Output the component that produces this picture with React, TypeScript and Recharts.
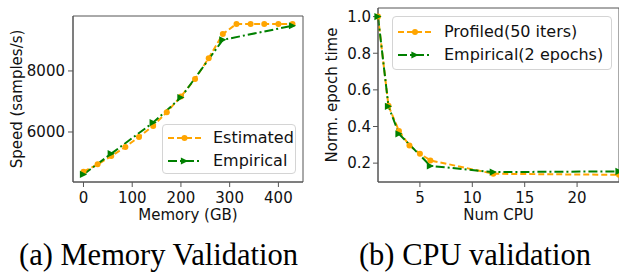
import { Legend, Line, LineChart, ReferenceArea, XAxis, YAxis } from "recharts";

const ORANGE = "#FFA500";
const GREEN = "#008000";
const SPINE = "#555";
const INK = "#111";

// (a) memory sweep
const memEstimatedGB = [0, 29, 57, 86, 114, 143, 171, 200, 229, 257, 286, 314, 343, 371, 400, 429];
const memEstimatedSpeed = [4700, 4940, 5210, 5510, 5840, 6200, 6650, 7160, 7740, 8420, 9210, 9540, 9540, 9540, 9540, 9540];
const memEmpiricalGB = [0, 57, 143, 200, 286, 429];
const memEmpiricalSpeed = [4610, 5290, 6310, 7130, 9020, 9480];
const memTicksX = [0, 100, 200, 300, 400];
const memTicksY = [6000, 8000];
const memDomainX = [-21.5, 450.5];
const memDomainY = [4362, 9800];

// (b) cpu sweep
const cpuProfiledCount = [1, 2, 3, 4, 5, 6, 12, 24];
const cpuProfiledTime = [1.0, 0.513, 0.376, 0.296, 0.251, 0.215, 0.142, 0.136];
const cpuEmpiricalCount = [1, 2, 3, 6, 12, 24];
const cpuEmpiricalTime = [1.0, 0.51, 0.36, 0.185, 0.151, 0.155];
const cpuTicksX = [5, 10, 15, 20];
const cpuTicksY = [0.2, 0.4, 0.6, 0.8, 1.0];
const cpuDomainX = [1, 24];
const cpuDomainY = [0.097, 1.047];

const zip = (xs: number[], ys: number[]) => xs.map((x, i) => ({ x, y: ys[i] }));

const circleDot = (props: any) => {
  const { cx, cy, index } = props;
  return <circle key={`c-${index}`} cx={cx} cy={cy} r={3} fill={ORANGE} />;
};

const triangleDot = (props: any) => {
  const { cx, cy, index } = props;
  const r = 3.6;
  return (
    <path
      key={`t-${index}`}
      d={`M${cx + r},${cy}L${cx - r},${cy - r}L${cx - r},${cy + r}Z`}
      fill={GREEN}
    />
  );
};

type LegendItem = { label: string; color: string; dash: string; marker: "circle" | "triangle" };

function LegendBox({ items, textLeft, padTop }: { items: LegendItem[]; textLeft: number; padTop: number }) {
  return (
    <div
      style={{
        boxSizing: "border-box",
        width: "100%",
        height: "100%",
        border: "1px solid #d4d4d4",
        borderRadius: 4,
        background: "rgba(255,255,255,0.85)",
        paddingTop: padTop,
        fontSize: 16,
        color: INK,
      }}
    >
      {items.map((item) => {
        const mx = (textLeft - 7) / 2;
        return (
          <div key={item.label} style={{ display: "flex", alignItems: "center", height: 23 }}>
            <svg width={textLeft} height={12} style={{ flex: "none" }}>
              <line x1={5} x2={textLeft - 12} y1={6} y2={6} stroke={item.color} strokeWidth={2} strokeDasharray={item.dash} />
              {item.marker === "circle" ? (
                <circle cx={mx} cy={6} r={3} fill={item.color} />
              ) : (
                <path d={`M${mx + 3.6},6L${mx - 3.6},2.4L${mx - 3.6},9.6Z`} fill={item.color} />
              )}
            </svg>
            <span style={{ whiteSpace: "nowrap" }}>{item.label}</span>
          </div>
        );
      })}
    </div>
  );
}

const tickStyle = { fontSize: 15, fill: INK };

function MemoryChart() {
  const items: LegendItem[] = [
    { label: "Estimated", color: ORANGE, dash: "6 3", marker: "circle" },
    { label: "Empirical", color: GREEN, dash: "9 3 2 3", marker: "triangle" },
  ];
  return (
    <LineChart width={310} height={230} margin={{ top: 16, right: 7, bottom: 0, left: 0 }}>
      <XAxis
        dataKey="x"
        type="number"
        domain={memDomainX}
        ticks={memTicksX}
        height={48}
        tickSize={5}
        tickMargin={5}
        tick={tickStyle}
        axisLine={{ stroke: SPINE }}
        tickLine={{ stroke: SPINE }}
        label={{ value: "Memory (GB)", position: "insideTop", offset: 27, fontSize: 15, fill: INK }}
      />
      <YAxis
        dataKey="y"
        type="number"
        domain={memDomainY}
        ticks={memTicksY}
        width={73}
        tickSize={5}
        tickMargin={3}
        tick={tickStyle}
        axisLine={{ stroke: SPINE }}
        tickLine={{ stroke: SPINE }}
        label={{
          value: "Speed (samples/s)",
          angle: -90,
          position: "insideLeft",
          offset: 17,
          fontSize: 15,
          fill: INK,
          style: { textAnchor: "middle" },
        }}
      />
      <ReferenceArea
        x1={memDomainX[0]}
        x2={memDomainX[1]}
        y1={memDomainY[0]}
        y2={memDomainY[1]}
        fill="none"
        fillOpacity={0}
        stroke={SPINE}
        strokeWidth={1}
        ifOverflow="visible"
      />
      <Line
        data={zip(memEstimatedGB, memEstimatedSpeed)}
        dataKey="y"
        name="Estimated"
        type="linear"
        stroke={ORANGE}
        strokeWidth={2}
        strokeDasharray="6 3"
        dot={circleDot}
        activeDot={false}
        isAnimationActive={false}
      />
      <Line
        data={zip(memEmpiricalGB, memEmpiricalSpeed)}
        dataKey="y"
        name="Empirical"
        type="linear"
        stroke={GREEN}
        strokeWidth={2}
        strokeDasharray="9 3 2 3"
        dot={triangleDot}
        activeDot={false}
        isAnimationActive={false}
      />
      <Legend
        layout="vertical"
        align="center"
        verticalAlign="middle"
        wrapperStyle={{ position: "absolute", left: 162, top: 124, width: 134, height: 50 }}
        content={() => <LegendBox items={items} textLeft={50} padTop={1} />}
      />
    </LineChart>
  );
}

function CpuChart() {
  const items: LegendItem[] = [
    { label: "Profiled(50 iters)", color: ORANGE, dash: "6 3", marker: "circle" },
    { label: "Empirical(2 epochs)", color: GREEN, dash: "9 3 2 3", marker: "triangle" },
  ];
  return (
    <LineChart width={309} height={230} margin={{ top: 8, right: 0, bottom: 0, left: 0 }}>
      <XAxis
        dataKey="x"
        type="number"
        domain={cpuDomainX}
        ticks={cpuTicksX}
        height={48}
        tickSize={5}
        tickMargin={5}
        tick={tickStyle}
        axisLine={{ stroke: SPINE }}
        tickLine={{ stroke: SPINE }}
        label={{ value: "Num CPU", position: "insideTop", offset: 27, fontSize: 15, fill: INK }}
      />
      <YAxis
        dataKey="y"
        type="number"
        domain={cpuDomainY}
        ticks={cpuTicksY}
        tickFormatter={(v: number) => v.toFixed(1)}
        width={68}
        tickSize={5}
        tickMargin={2}
        tick={tickStyle}
        axisLine={{ stroke: SPINE }}
        tickLine={{ stroke: SPINE }}
        label={{
          value: "Norm. epoch time",
          angle: -90,
          position: "insideLeft",
          offset: 22,
          fontSize: 15,
          fill: INK,
          style: { textAnchor: "middle" },
        }}
      />
      <ReferenceArea
        x1={cpuDomainX[0]}
        x2={cpuDomainX[1]}
        y1={cpuDomainY[0]}
        y2={cpuDomainY[1]}
        fill="none"
        fillOpacity={0}
        stroke={SPINE}
        strokeWidth={1}
        ifOverflow="visible"
      />
      <Line
        data={zip(cpuProfiledCount, cpuProfiledTime)}
        dataKey="y"
        name="Profiled(50 iters)"
        type="linear"
        stroke={ORANGE}
        strokeWidth={2}
        strokeDasharray="6 3"
        dot={circleDot}
        activeDot={false}
        isAnimationActive={false}
      />
      <Line
        data={zip(cpuEmpiricalCount, cpuEmpiricalTime)}
        dataKey="y"
        name="Empirical(2 epochs)"
        type="linear"
        stroke={GREEN}
        strokeWidth={2}
        strokeDasharray="9 3 2 3"
        dot={triangleDot}
        activeDot={false}
        isAnimationActive={false}
      />
      <Legend
        layout="vertical"
        align="center"
        verticalAlign="middle"
        wrapperStyle={{ position: "absolute", left: 82, top: 16, width: 220, height: 54 }}
        content={() => <LegendBox items={items} textLeft={51} padTop={3} />}
      />
    </LineChart>
  );
}

export default function App() {
  return (
    <div
      style={{
        position: "absolute",
        left: 0,
        top: 0,
        width: 619,
        height: 273,
        overflow: "hidden",
        background: "#fff",
        fontFamily: '"DejaVu Sans", sans-serif',
      }}
    >
      <div style={{ position: "absolute", left: 0, top: 0 }}>
        <MemoryChart />
      </div>
      <div style={{ position: "absolute", left: 310, top: 0 }}>
        <CpuChart />
      </div>
      <svg width={619} height={273} style={{ position: "absolute", left: 0, top: 0, pointerEvents: "none" }}>
        <text x={158.5} y={265} textAnchor="middle" fontFamily='"Liberation Serif", serif' fontSize={30.5} fill="#000">
          (a) Memory Validation
        </text>
        <text x={475} y={265} textAnchor="middle" fontFamily='"Liberation Serif", serif' fontSize={30.5} fill="#000">
          (b) CPU validation
        </text>
      </svg>
    </div>
  );
}
